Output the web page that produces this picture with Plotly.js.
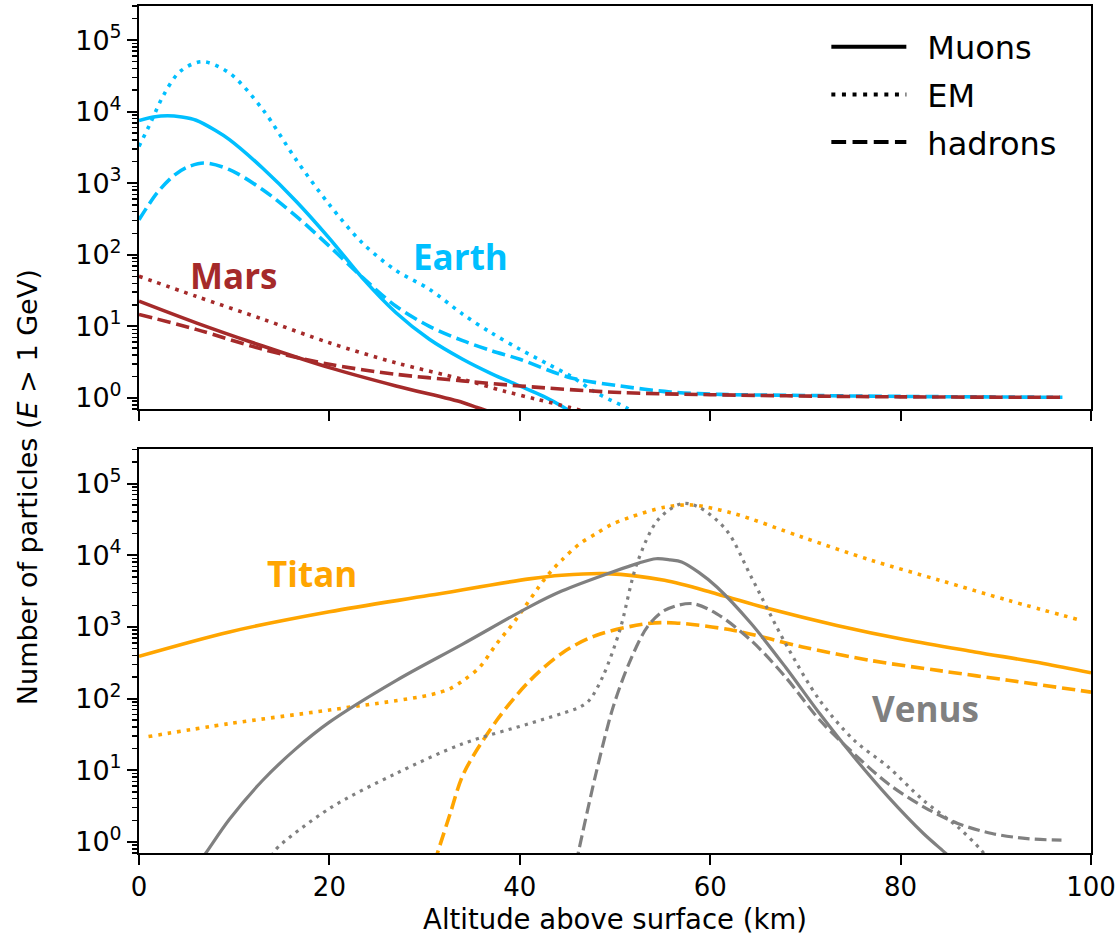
<!DOCTYPE html>
<html><head><meta charset="utf-8">
<script src="https://cdn.plot.ly/plotly-3.0.1.min.js"></script>
<style>body{margin:0;background:#fff}</style>
</head><body><div id="chart" style="width:1120px;height:935px"></div>
<script>
// ---------- DATA (altitude km, number of particles E>1 GeV) ----------
const earthMuonX = [0, 1.5, 3, 4.5, 6, 8, 9.5, 13, 16.5, 20, 23.5, 27, 30.5, 34, 37, 40, 42.5, 44.6, 46];
const earthMuonY = [7530, 8410, 8770, 8410, 7590, 5500, 4070, 1620, 562, 170, 46.8, 15.5, 6.6, 3.47, 2.19, 1.47, 1.05, 0.74, 0.56];
const earthEMX = [0, 1.2, 2.6, 4.3, 6.6, 9.5, 13, 16.5, 20, 23.5, 27, 30.5, 34, 37, 40, 43, 45.3, 48, 50, 51.2, 52.5];
const earthEMY = [3273, 6918, 17220, 36310, 50120, 34670, 10720, 2138, 501, 144.5, 60.3, 33.1, 14.8, 8.13, 4.79, 2.95, 2.03, 1.19, 0.87, 0.73, 0.56];
const earthHadX = [0, 1.9, 3.6, 5, 6.8, 9.5, 13, 16.5, 20, 23.5, 27, 30.5, 34, 37, 40, 45.3, 50.5, 55.8, 61, 68, 80, 97];
const earthHadY = [309, 733, 1259, 1660, 1919, 1549, 813, 347, 132, 47.9, 19.1, 10, 6.31, 4.57, 3.47, 1.92, 1.47, 1.21, 1.12, 1.09, 1.05, 1.02];

const marsMuonX = [0, 6, 13, 20, 27, 34, 35.5, 37];
const marsMuonY = [22.5, 11.2, 5.31, 2.65, 1.47, 0.863, 0.735, 0.63];
const marsEMX = [0, 6, 13, 20, 27, 34, 38.3, 41.8, 45.3, 46.5];
const marsEMY = [50.1, 26.3, 12.6, 5.89, 3.09, 1.82, 1.25, 0.955, 0.735, 0.66];
const marsHadX = [0, 6, 13, 20, 27, 34, 40, 50.5, 60, 68, 80, 97];
const marsHadY = [14.7, 9.08, 4.79, 2.95, 2.14, 1.73, 1.47, 1.19, 1.11, 1.07, 1.035, 1.02];

const titanMuonX = [0, 9.5, 20, 30.5, 41, 44.4, 49.1, 55.2, 60.7, 66.1, 73.3, 80.5, 87.8, 95, 100];
const titanMuonY = [389, 851, 1622, 2754, 4677, 5248, 5534, 4467, 2884, 1799, 1047, 661, 447, 309, 229];
const titanEMX = [1, 9.5, 20, 30.5, 32.7, 34.1, 35.8, 37.6, 39.3, 42.8, 44.4, 46.3, 48, 49.5, 51.6, 55.2, 58.1, 62.5, 69.7, 76.9, 84.1, 91.3, 99];
const titanEMY = [29.5, 44.7, 69.2, 112, 138, 180, 275, 589, 1122, 5012, 8511, 14450, 19950, 26300, 33880, 46770, 50120, 38020, 17780, 8511, 4467, 2344, 1230];
const titanHadX = [31.0, 32.7, 34.1, 37.6, 41.1, 44.5, 48, 53.4, 56.3, 62.5, 69.7, 76.9, 84.1, 91.3, 100];
const titanHadY = [0.5, 2.51, 9.0, 50.1, 180, 437, 759, 1112, 1135, 891, 525, 339, 245, 180, 123];

const venusMuonX = [6.5, 7.1, 9.5, 13, 16.5, 20, 27, 34, 41, 44.4, 49.8, 52.5, 54.3, 55.8, 57, 58.8, 60.7, 64.3, 67.9, 71.5, 75.1, 78.7, 82.4, 84.7, 85.5];
const venusMuonY = [0.562, 0.724, 2.07, 7.24, 20.0, 46.8, 178, 575, 1905, 3162, 5890, 7760, 8913, 8600, 8035, 5750, 3597, 1112, 275, 61.7, 15.3, 4.25, 1.31, 0.703, 0.562];
const venusEMX = [14.0, 14.3, 20, 27, 34, 41, 44.4, 46.3, 47.3, 48.7, 50.5, 52.3, 54.5, 57, 58.8, 61.7, 64.3, 67.9, 71.5, 75.1, 78.7, 82.4, 86, 88.3, 89];
const venusEMY = [0.631, 0.766, 2.92, 9.0, 23.4, 44.7, 61.7, 75.9, 94.6, 200, 891, 7586, 30900, 52480, 46770, 22390, 5012, 589, 94.6, 26.3, 11.1, 3.80, 1.62, 0.813, 0.631];
const venusHadX = [45.9, 46.2, 48, 49.8, 51.6, 53.4, 55.2, 58.1, 60.65, 64.3, 67.9, 71.5, 75.1, 78.7, 82.4, 86, 89.6, 93.3, 96.9];
const venusHadY = [0.501, 0.766, 9.0, 75.9, 339, 1000, 1698, 2113, 1531, 646, 200, 50.1, 17.0, 6.46, 3.09, 1.81, 1.31, 1.11, 1.057];

const xTicks = [0, 20, 40, 60, 80, 100];
const yTicks = [1, 10, 100, 1000, 10000, 100000];
const yTickText = ['10<sup>0</sup>', '10<sup>1</sup>', '10<sup>2</sup>', '10<sup>3</sup>', '10<sup>4</sup>', '10<sup>5</sup>'];
const legendNames = ['Muons', 'EM', 'hadrons'];

// ---------- STYLE ----------
const C = {earth: '#00BFFF', mars: '#A52A2A', titan: '#FFA500', venus: '#808080'};
function dashFor(kind, w) {
  if (kind === 'dot') return (w) + 'px,' + (1.65 * w).toFixed(2) + 'px';
  if (kind === 'dash') return (3.7 * w).toFixed(2) + 'px,' + (1.6 * w).toFixed(2) + 'px';
  return 'solid';
}
function tr(x, y, color, kind, w, xa, ya) {
  return {x: x, y: y, type: 'scatter', mode: 'lines', xaxis: xa, yaxis: ya, showlegend: false,
    hoverinfo: 'skip', line: {color: color, width: w, dash: dashFor(kind, w), shape: 'spline', smoothing: 0.9}};
}
const W = 3.6, WV = 3.2;
const data = [
  tr(earthMuonX, earthMuonY, C.earth, 'solid', W, 'x', 'y'),
  tr(earthEMX, earthEMY, C.earth, 'dot', W, 'x', 'y'),
  tr(earthHadX, earthHadY, C.earth, 'dash', W, 'x', 'y'),
  tr(marsMuonX, marsMuonY, C.mars, 'solid', W, 'x', 'y'),
  tr(marsEMX, marsEMY, C.mars, 'dot', W, 'x', 'y'),
  tr(marsHadX, marsHadY, C.mars, 'dash', W, 'x', 'y'),
  tr(titanMuonX, titanMuonY, C.titan, 'solid', W, 'x2', 'y2'),
  tr(titanEMX, titanEMY, C.titan, 'dot', W, 'x2', 'y2'),
  tr(titanHadX, titanHadY, C.titan, 'dash', W, 'x2', 'y2'),
  tr(venusMuonX, venusMuonY, C.venus, 'solid', WV, 'x2', 'y2'),
  tr(venusEMX, venusEMY, C.venus, 'dot', WV, 'x2', 'y2'),
  tr(venusHadX, venusHadY, C.venus, 'dash', WV, 'x2', 'y2')
];
['solid', 'dot', 'dash'].forEach(function (k, i) {
  data.push({x: [null], y: [null], type: 'scatter', mode: 'lines', xaxis: 'x', yaxis: 'y',
    name: '\u2002' + legendNames[i], legendgroup: 'g' + i, showlegend: true,
    line: {color: 'black', width: 4, dash: dashFor(k, 4)}});
});

const minorVals = [];
for (let e = -1; e <= 5; e++) for (let d = 2; d <= 9; d++) minorVals.push(d * Math.pow(10, e));

const FONT = 'DejaVu Sans, sans-serif';
const yRange = [Math.log10(0.7), Math.log10(3e5)];
function xAxis(extra) {
  return Object.assign({range: [0, 100], showline: true, linewidth: 2, linecolor: 'black', mirror: true,
    ticks: 'outside', ticklen: 10, tickwidth: 2, tickcolor: 'black', tickmode: 'array', tickvals: xTicks,
    showgrid: false, zeroline: false, tickfont: {family: FONT, size: 26, color: 'black'}}, extra);
}
function yAxis(extra) {
  return Object.assign({type: 'log', range: yRange, showline: true, linewidth: 2, linecolor: 'black', mirror: true,
    ticks: 'outside', ticklen: 10, tickwidth: 2, tickcolor: 'black', tickmode: 'array', tickvals: yTicks,
    ticktext: yTickText, showgrid: false, zeroline: false, tickfont: {family: FONT, size: 27, color: 'black'},
    minor: {tickmode: 'array', tickvals: minorVals, ticks: 'outside', ticklen: 5, tickwidth: 1.5, tickcolor: 'black', showgrid: false}}, extra);
}
const annFont = function (c) { return {family: 'Open Sans, sans-serif', size: 35, color: c}; };
const layout = {
  width: 1120, height: 935, margin: {l: 139, r: 29, t: 6, b: 82},
  paper_bgcolor: 'white', plot_bgcolor: 'white',
  font: {family: FONT, color: 'black'},
  xaxis: xAxis({anchor: 'y', domain: [0, 1], showticklabels: false}),
  xaxis2: xAxis({anchor: 'y2', domain: [0, 1], title: {text: 'Altitude above surface (km)', font: {family: FONT, size: 27.5, color: 'black'}, standoff: 9}}),
  yaxis: yAxis({anchor: 'x', domain: [0.5242, 1]}),
  yaxis2: yAxis({anchor: 'x2', domain: [0, 0.4766]}),
  showlegend: true,
  legend: {x: 0.722, y: 0.984, xanchor: 'left', yanchor: 'top', bgcolor: 'rgba(0,0,0,0)',
    font: {family: FONT, size: 32, color: 'black'}, itemwidth: 75, traceorder: 'grouped', tracegroupgap: 3},
  annotations: [
    {text: '<b>Mars</b>', x: 9.9, y: 1.71, xref: 'x', yref: 'y', showarrow: false, font: annFont(C.mars)},
    {text: '<b>Earth</b>', x: 33.8, y: 1.976, xref: 'x', yref: 'y', showarrow: false, font: annFont(C.earth)},
    {text: '<b>Titan</b>', x: 18.2, y: 3.75, xref: 'x2', yref: 'y2', showarrow: false, font: annFont(C.titan)},
    {text: '<b>Venus</b>', x: 82.6, y: 1.865, xref: 'x2', yref: 'y2', showarrow: false, font: annFont(C.venus)},
    {text: 'Number of particles (<i>E</i> > 1 GeV)', x: -0.117, y: 0.4315, xref: 'paper', yref: 'paper',
      xanchor: 'center', yanchor: 'middle', textangle: -90, showarrow: false, font: {family: FONT, size: 27, color: 'black'}}
  ]
};
Plotly.newPlot('chart', data, layout, {staticPlot: true, displayModeBar: false});
</script></body></html>
